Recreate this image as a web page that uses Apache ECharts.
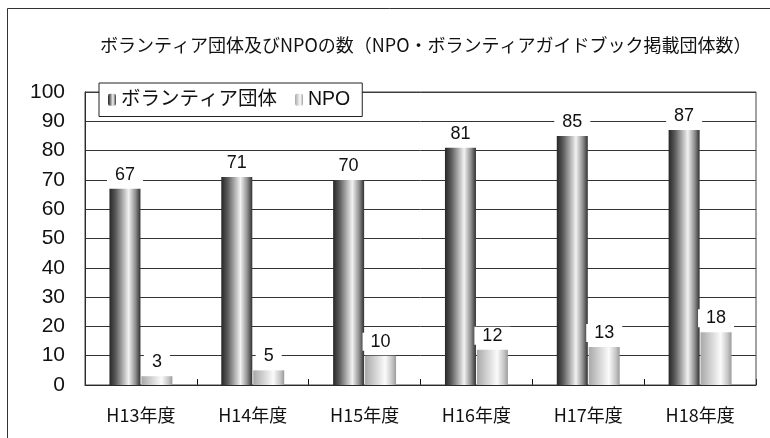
<!DOCTYPE html>
<html>
<head>
<meta charset="utf-8">
<script src="https://cdn.jsdelivr.net/npm/echarts@6/dist/echarts.min.js"></script>
<style>
  html, body { margin: 0; padding: 0; background: #fff; }
  #chart { width: 770px; height: 438px; }
</style>
</head>
<body>
<div id="chart"></div>
<script>
// 年度別の団体数
const categories = ['H13年度', 'H14年度', 'H15年度', 'H16年度', 'H17年度', 'H18年度'];
const volunteerGroups = [67, 71, 70, 81, 85, 87];
const npoGroups = [3, 5, 10, 12, 13, 18];
const seriesNames = ['ボランティア団体', 'NPO'];
const yTicks = { min: 0, max: 100, interval: 10 };

const sans = '"Liberation Sans", Arial, "Noto Sans CJK JP", sans-serif';
const cjk = '"Noto Sans CJK JP", "Liberation Sans", sans-serif';

// cylinder-like shading across each bar
const darkBar = {
  type: 'linear', x: 0, y: 0, x2: 1, y2: 0,
  colorStops: [
    { offset: 0, color: '#262626' },
    { offset: 0.2, color: '#5a5a5a' },
    { offset: 0.62, color: '#f2f2f2' },
    { offset: 0.85, color: '#8a8a8a' },
    { offset: 1, color: '#303030' }
  ]
};
const lightBar = {
  type: 'linear', x: 0, y: 0, x2: 1, y2: 0,
  colorStops: [
    { offset: 0, color: '#a8a8a8' },
    { offset: 0.25, color: '#c8c8c8' },
    { offset: 0.65, color: '#fbfbfb' },
    { offset: 0.88, color: '#c4c4c4' },
    { offset: 1, color: '#9a9a9a' }
  ]
};

const valueLabel = {
  show: true,
  position: 'top',
  distance: 5,
  fontFamily: sans,
  fontSize: 18,
  color: '#111',
  backgroundColor: '#fff',
  padding: [0, 8, 0, 8]
};

const chart = echarts.init(document.getElementById('chart'), null, { renderer: 'canvas' });
chart.setOption({
  backgroundColor: '#fff',
  animation: false,
  graphic: [{
    type: 'rect',
    shape: { x: 7.5, y: 8.5, width: 800, height: 480 },
    style: { fill: 'none', stroke: '#333', lineWidth: 1 },
    z: 0
  }, {
    type: 'rect',
    shape: { x: 85, y: 92, width: 671, height: 293 },
    style: { fill: 'none', stroke: '#444', lineWidth: 1 },
    z: 1
  }],
  title: {
    text: 'ボランティア団体及びNPOの数（NPO・ボランティアガイドブック掲載団体数）',
    left: 95,
    top: 31,
    textStyle: { fontFamily: cjk, fontSize: 18, fontWeight: 'normal', color: '#111' }
  },
  legend: {
    data: seriesNames,
    left: 99,
    top: 83,
    orient: 'horizontal',
    itemWidth: 8,
    itemHeight: 12,
    itemGap: 18,
    padding: [7, 12, 7, 9],
    backgroundColor: '#fff',
    borderColor: '#222',
    borderWidth: 1,
    textStyle: { fontFamily: sans, fontSize: 19.5, color: '#111' },
    z: 10
  },
  grid: { left: 85, right: 14, top: 92, bottom: 53, containLabel: false },
  xAxis: {
    type: 'category',
    data: categories,
    axisLine: { lineStyle: { color: '#111', width: 1 } },
    axisTick: { show: true, inside: true, length: 6, lineStyle: { color: '#111' } },
    axisLabel: { fontFamily: cjk, fontSize: 18, color: '#111', margin: 21 }
  },
  yAxis: {
    type: 'value',
    min: yTicks.min,
    max: yTicks.max,
    interval: yTicks.interval,
    axisLine: { show: true, lineStyle: { color: '#111', width: 1 } },
    axisTick: { show: false },
    axisLabel: { fontFamily: sans, fontSize: 21, color: '#111', margin: 20 },
    splitLine: { lineStyle: { color: '#333', width: 1 } }
  },
  series: [{
    name: seriesNames[0],
    type: 'bar',
    data: volunteerGroups,
    barWidth: 31,
    barGap: '3%',
    itemStyle: { color: darkBar },
    label: valueLabel
  }, {
    name: seriesNames[1],
    type: 'bar',
    data: npoGroups,
    barWidth: 31,
    itemStyle: { color: lightBar },
    label: valueLabel
  }]
});
</script>
</body>
</html>
